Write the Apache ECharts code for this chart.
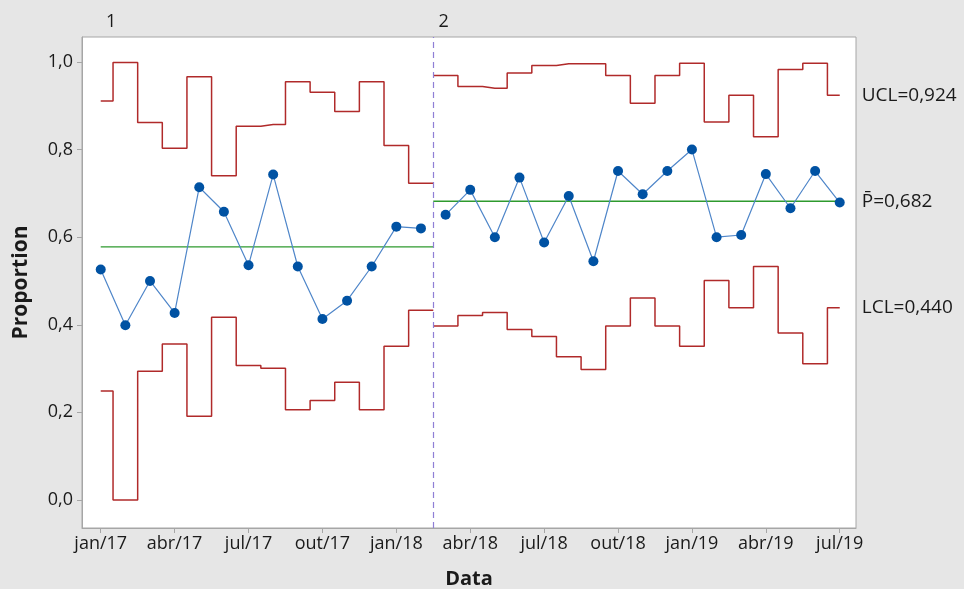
<!DOCTYPE html>
<html>
<head>
<meta charset="utf-8">
<script src="https://cdn.jsdelivr.net/npm/echarts@6/dist/echarts.min.js"></script>
<style>
  html, body { margin: 0; padding: 0; background: #e6e6e6; }
  #chart { width: 964px; height: 589px; }
</style>
</head>
<body>
<div id="chart"></div>
<script>
  // meses (eixo x)
  const months = [
    'jan/17', 'fev/17', 'mar/17', 'abr/17', 'mai/17', 'jun/17', 'jul/17', 'ago/17', 'set/17', 'out/17', 'nov/17', 'dez/17',
    'jan/18', 'fev/18', 'mar/18', 'abr/18', 'mai/18', 'jun/18', 'jul/18', 'ago/18', 'set/18', 'out/18', 'nov/18', 'dez/18',
    'jan/19', 'fev/19', 'mar/19', 'abr/19', 'mai/19', 'jun/19', 'jul/19',
  ];
  const xTickIdx = [0, 3, 6, 9, 12, 15, 18, 21, 24, 27, 30];
  const yTicks = [0, 0.2, 0.4, 0.6, 0.8, 1.0];

  const proportion = [
    0.526, 0.399, 0.500, 0.427, 0.714, 0.658, 0.536, 0.743, 0.533, 0.413, 0.455, 0.533, 0.624, 0.620,
    0.651, 0.708, 0.600, 0.736, 0.588, 0.694, 0.545, 0.751, 0.698, 0.751, 0.800, 0.600, 0.605, 0.744, 0.666, 0.751, 0.679,
  ];
  const ucl = [
    0.911, 0.999, 0.862, 0.803, 0.966, 0.740, 0.853, 0.857, 0.955, 0.931, 0.887, 0.955, 0.809, 0.723,
    0.969, 0.944, 0.940, 0.975, 0.992, 0.996, 0.996, 0.969, 0.906, 0.969, 0.997, 0.863, 0.924, 0.829, 0.983, 0.997, 0.924,
  ];
  const lcl = [
    0.249, 0.000, 0.294, 0.356, 0.191, 0.417, 0.307, 0.301, 0.206, 0.227, 0.269, 0.206, 0.351, 0.433,
    0.397, 0.421, 0.428, 0.389, 0.373, 0.327, 0.298, 0.397, 0.461, 0.397, 0.351, 0.501, 0.439, 0.533, 0.381, 0.311, 0.439,
  ];
  const centerLine = [0.578, 0.682];
  const stageNames = ['1', '2'];
  const stageFirst = [0, 14];
  const stageLast = [13, 30];
  const limitLabels = ['UCL=0,924', 'P\u0304=0,682', 'LCL=0,440'];

  const font = 'Open Sans';
  const txt = '#1a1a1a';
  const axisGray = '#a6a6a6';

  const fmtNum = (v) => v.toFixed(1).replace('.', ',');

  const endLabel = (show, text) => ({
    show: show,
    formatter: text,
    color: txt,
    fontFamily: font,
    fontSize: 19,
    distance: 22,
  });

  const series = [];
  stageNames.forEach((name, s) => {
    const a = stageFirst[s];
    const b = stageLast[s];
    const left = s === 0 ? a : a - 0.5;
    const right = s === stageNames.length - 1 ? b : b + 0.5;
    const isLast = s === stageNames.length - 1;

    // limites em degraus
    const limitData = (arr) => {
      const d = [[left, arr[a]]];
      for (let i = a; i <= b; i++) d.push([i, arr[i]]);
      d.push([right, arr[b]]);
      return d;
    };
    [ucl, lcl].forEach((arr, k) => {
      series.push({
        type: 'line',
        step: 'middle',
        data: limitData(arr),
        symbol: 'none',
        lineStyle: { color: '#b02a2a', width: 1.5 },
        silent: true,
        z: 2,
        endLabel: endLabel(isLast, k === 0 ? limitLabels[0] : limitLabels[2]),
      });
    });

    // linha central
    series.push({
      type: 'line',
      data: [[left, centerLine[s]], [right, centerLine[s]]],
      symbol: 'none',
      lineStyle: { color: '#2e9a2e', width: 1.3 },
      silent: true,
      z: 2,
      endLabel: endLabel(isLast, limitLabels[1]),
    });

    // proporções
    const pts = [];
    for (let i = a; i <= b; i++) pts.push([i, proportion[i]]);
    series.push({
      type: 'line',
      data: pts,
      symbol: 'circle',
      symbolSize: 10,
      itemStyle: { color: '#0052a3' },
      lineStyle: { color: '#4f86c9', width: 1.2 },
      z: 3,
      markLine: s === 0 ? {
        silent: true,
        symbol: 'none',
        label: { show: false },
        lineStyle: { color: '#8f7fd6', type: [6, 4], width: 1.2 },
        data: [{ xAxis: stageLast[0] + 0.5 }],
      } : undefined,
    });
  });

  const chart = echarts.init(document.getElementById('chart'));
  chart.setOption({
    backgroundColor: '#e6e6e6',
    animation: false,
    grid: {
      left: 82, right: 108, top: 37, bottom: 61,
      outerBoundsMode: 'none',
      show: true, backgroundColor: '#ffffff', borderColor: axisGray, borderWidth: 1,
    },
    xAxis: [
      {
        type: 'value',
        min: -0.76,
        max: 30.66,
        name: 'Data',
        nameLocation: 'middle',
        nameGap: 41,
        nameTextStyle: { fontFamily: font, fontSize: 20, fontWeight: 'bold', color: txt },
        splitLine: { show: false },
        axisLine: { show: true, onZero: false, lineStyle: { color: axisGray } },
        axisTick: { show: true, length: 5, customValues: xTickIdx, lineStyle: { color: axisGray } },
        axisLabel: {
          customValues: xTickIdx,
          formatter: (v) => months[Math.round(v)],
          fontFamily: font, fontSize: 18, color: txt, margin: 7,
        },
      },
      {
        type: 'value',
        position: 'top',
        min: -0.76,
        max: 30.66,
        axisLine: { show: false, onZero: false },
        axisTick: { show: false },
        splitLine: { show: false },
        axisLabel: {
          customValues: stageFirst.map((f, s) => (s === 0 ? f : f - 0.5) + 0.42),
          formatter: (v) => stageNames[v < stageFirst[1] - 0.5 ? 0 : 1],
          fontFamily: font, fontSize: 18, color: txt, margin: 6,
        },
      },
    ],
    yAxis: {
      type: 'value',
      min: -0.064,
      max: 1.057,
      name: 'Proportion',
      nameLocation: 'middle',
      nameGap: 50,
      nameTextStyle: { fontFamily: font, fontSize: 21, fontWeight: 'bold', color: txt },
      splitLine: { show: false },
      axisLine: { show: true, onZero: false, lineStyle: { color: axisGray } },
      axisTick: { show: true, length: 5, customValues: yTicks, lineStyle: { color: axisGray } },
      axisLabel: {
        customValues: yTicks,
        formatter: fmtNum,
        fontFamily: font, fontSize: 18, color: txt, margin: 9,
      },
    },
    series: series,
  });
</script>
</body>
</html>
